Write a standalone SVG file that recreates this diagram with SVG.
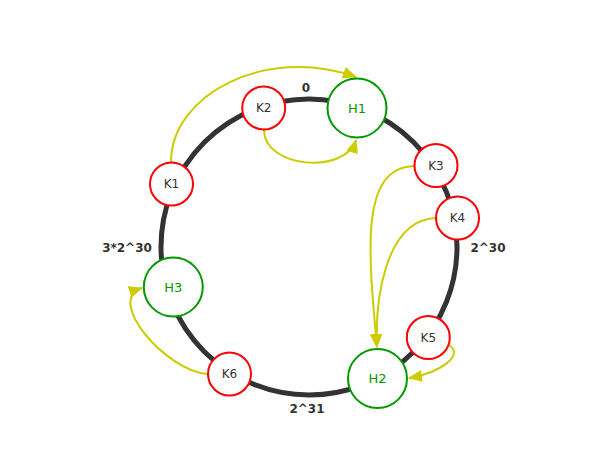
<svg xmlns="http://www.w3.org/2000/svg" width="599" height="460" viewBox="0 0 599 460">
<style>
.ring{fill:none;stroke:#333;stroke-width:5}
.k{fill:#fff;stroke:#f00;stroke-width:2}
.h{fill:#fff;stroke:#090;stroke-width:2}
.kt{font-family:"DejaVu Sans",sans-serif;font-size:12px;fill:#333;text-anchor:middle;dominant-baseline:central}
.ht{font-family:"DejaVu Sans",sans-serif;font-size:13px;fill:#090;text-anchor:middle;dominant-baseline:central}
.lbl{font-family:"DejaVu Sans",sans-serif;font-size:12px;font-weight:bold;fill:#333;text-anchor:middle;dominant-baseline:central}
.e{fill:none;stroke:#cc0;stroke-width:2;marker-end:url(#ah)}
</style>
<defs>
<marker id="ah" viewBox="0 0 14 12" refX="13" refY="6" markerWidth="14" markerHeight="12" markerUnits="userSpaceOnUse" orient="auto">
<path d="M0,0 L14,6 L0,12 z" fill="#cc0"/>
</marker>
</defs>
<circle class="ring" cx="309" cy="247" r="148"/>
<g id="connectors">
<path class="e" d="M171,162 C171,95 265,45 356,77"/>
<path class="e" d="M264,130 C264,168 345,175 356,140"/>
<path class="e" d="M414,166 C360,168 368,250 377,347"/>
<path class="e" d="M436,218 C385,220 375,300 377,347"/>
<path class="e" d="M449,345 C465,355 440,373 409,378"/>
<path class="e" d="M207,374 C165,370 105,300 142,288"/>
</g>
<text class="lbl" x="306" y="88">0</text>
<text class="lbl" x="488" y="248">2^30</text>
<text class="lbl" x="307" y="409">2^31</text>
<text class="lbl" x="127" y="248">3*2^30</text>
<g id="K1"><circle class="k" cx="171.5" cy="184" r="21.5"/><text class="kt" x="171.5" y="184">K1</text></g>
<g id="K2"><circle class="k" cx="263.7" cy="108" r="21.5"/><text class="kt" x="263.7" y="108">K2</text></g>
<g id="H1"><circle class="h" cx="357" cy="108" r="29.5"/><text class="ht" x="357" y="108">H1</text></g>
<g id="K3"><circle class="k" cx="436" cy="165.5" r="21.5"/><text class="kt" x="436" y="165.5">K3</text></g>
<g id="K4"><circle class="k" cx="457.5" cy="218" r="21.5"/><text class="kt" x="457.5" y="218">K4</text></g>
<g id="K5"><circle class="k" cx="428.3" cy="337.5" r="21.5"/><text class="kt" x="428.3" y="337.5">K5</text></g>
<g id="H2"><circle class="h" cx="377.5" cy="378.5" r="29.5"/><text class="ht" x="377.5" y="378.5">H2</text></g>
<g id="K6"><circle class="k" cx="229.5" cy="374" r="21.5"/><text class="kt" x="229.5" y="374">K6</text></g>
<g id="H3"><circle class="h" cx="173.3" cy="287" r="29.5"/><text class="ht" x="173.3" y="287">H3</text></g>
</svg>
